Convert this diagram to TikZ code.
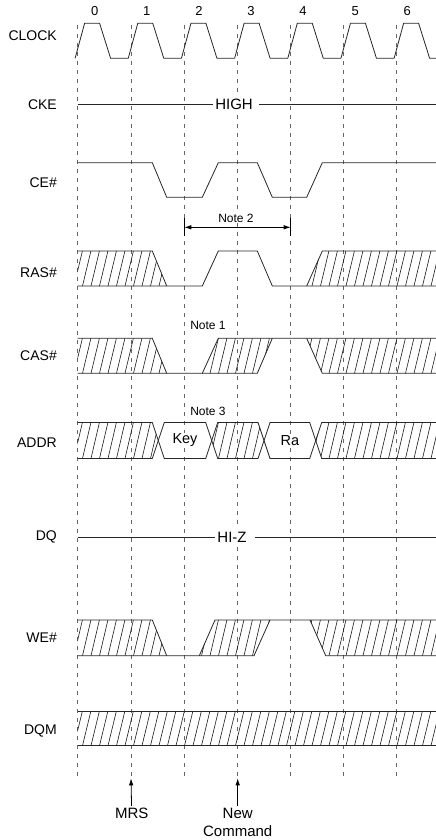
\documentclass[tikz,border=0pt]{standalone}
\usepackage{fontspec}
\setmainfont{Liberation Sans}
\usetikzlibrary{arrows.meta}

\tikzset{
  sigline/.style={line width=0.8pt, black!85},
  hatchline/.style={line width=0.6pt, black!90},
  gridline/.style={line width=0.6pt, black!60, dash pattern=on 4pt off 5pt},
  lbl/.style={anchor=east, inner sep=0pt, font=\fontsize{14}{16}\selectfont},
  note/.style={fill=white, inner sep=1pt, font=\fontsize{12}{14}\selectfont},
  val/.style={fill=white, inner sep=1pt, font=\fontsize{14.5}{16}\selectfont},
  level/.style={fill=white, inner sep=2.5pt, font=\fontsize{15}{17}\selectfont},
  cmd/.style={align=center, inner sep=2pt, font=\fontsize{15}{18}\selectfont},
  arr/.style={line width=0.8pt, -{Latex[length=7pt,width=4.5pt]}},
  arrboth/.style={line width=0.8pt, {Latex[length=7pt,width=4.5pt]}-{Latex[length=7pt,width=4.5pt]}},
}

% hatched bus region: #1 outline, #2 top y, #3 bottom y
\newcommand{\hatchregion}[3]{%
  \begin{scope}
    \clip #1;
    \foreach \hx in {40,48.5,...,440}
      \draw[hatchline] (\hx,#3) -- (\hx+8.4,#2);
  \end{scope}}

\begin{document}
\begin{tikzpicture}[x=1pt,y=-1pt]
\useasboundingbox (0,0) rectangle (436,840);

\begin{scope}
\clip (0,0) rectangle (436,840);

%clock edges
\foreach \k in {0,...,6}
  \draw[gridline] (77.7+53.17*\k,25) -- (77.7+53.17*\k,778);

%signal names
\node[lbl] (clock) at (57,36) {CLOCK};
\node[lbl] (cke) at (57,104.3) {CKE};
\node[lbl] (ce) at (57,182.5) {CE\#};
\node[lbl] (ras) at (57,272.5) {RAS\#};
\node[lbl] (cas) at (57,356) {CAS\#};
\node[lbl] (addr) at (57,442.5) {ADDR};
\node[lbl] (dq) at (57,537) {DQ};
\node[lbl] (we) at (57,637.5) {WE\#};
\node[lbl] (dqm) at (57,731) {DQM};

%clock numbers
\foreach \k in {0,...,6}
  \node[font=\fontsize{13}{15}\selectfont, inner sep=0pt] (num\k) at (94.7+52.1*\k,11) {\k};

%clock
\foreach \k in {0,...,6}
  \draw[sigline] (75.1+53.17*\k,58.3) -- ++(9.5,-35) -- ++(15,0) -- ++(11,35) -- ++(17.67,0);

%cke
\node[level] (high) at (234,104.3) {HIGH};
\coordinate (cke0) at (77.7,104.3);
\coordinate (cke1) at (436,104.3);
\draw[sigline] (cke0) -- (high.west);
\draw[sigline] ([xshift=4pt]high.east) -- (cke1);

%ce
\draw[sigline] (77.7,162.7) -- (152.3,162.7) -- (166.7,197.3) -- (202.3,197.3) -- (218.3,162.7)
  -- (257.3,162.7) -- (272.3,197.3) -- (306.7,197.3) -- (322.3,162.7) -- (436,162.7);

%note 2
\node[note] (note2) at (236,218) {Note 2};
\coordinate (n2a) at (184.3,227.3);
\coordinate (n2b) at (290.7,227.3);
\draw[line width=0.6pt] (184.3,218.3) -- (184.3,236);
\draw[line width=0.6pt] (290.7,218.3) -- (290.7,236);
\draw[arrboth] (n2a) -- (n2b);

%ras
\hatchregion{(77.7,251) -- (152.3,251) -- (166.7,286) -- (77.7,286) -- cycle}{251}{286}
\hatchregion{(306.7,286) -- (322.3,251) -- (436,251) -- (436,286) -- cycle}{251}{286}
\draw[sigline] (77.7,251) -- (152.3,251) -- (166.7,286);
\draw[sigline] (77.7,286) -- (202.3,286) -- (218.3,251) -- (257.3,251) -- (272.3,286) -- (436,286);
\draw[sigline] (306.7,286) -- (322.3,251) -- (436,251);

%cas
\node[note] (note1) at (208,325) {Note 1};
\hatchregion{(77.7,338.3) -- (152.3,338.3) -- (166.7,373.3) -- (77.7,373.3) -- cycle}{338.3}{373.3}
\hatchregion{(202.3,373.3) -- (218.3,338.3) -- (272.3,338.3) -- (257.3,373.3) -- cycle}{338.3}{373.3}
\hatchregion{(306.7,338.3) -- (436,338.3) -- (436,373.3) -- (322.3,373.3) -- cycle}{338.3}{373.3}
\draw[sigline] (77.7,338.3) -- (152.3,338.3) -- (166.7,373.3);
\draw[sigline] (77.7,373.3) -- (257.3,373.3) -- (272.3,338.3);
\draw[sigline] (202.3,373.3) -- (218.3,338.3) -- (436,338.3);
\draw[sigline] (306.7,338.3) -- (322.3,373.3) -- (436,373.3);

%addr
\node[note] (note3) at (208,411.7) {Note 3};
\hatchregion{(77.7,422.5) -- (152.3,422.5) -- (158.3,440.5) -- (152.3,458.5) -- (77.7,458.5) -- cycle}{422.5}{458.5}
\hatchregion{(211.7,440.5) -- (217.7,422.5) -- (258,422.5) -- (264,440.5) -- (258,458.5) -- (217.7,458.5) -- cycle}{422.5}{458.5}
\hatchregion{(315.7,440.5) -- (321.7,422.5) -- (436,422.5) -- (436,458.5) -- (321.7,458.5) -- cycle}{422.5}{458.5}
\draw[sigline] (77.7,422.5) -- (152.3,422.5) -- (164.3,458.5) -- (205.7,458.5) -- (217.7,422.5)
  -- (258,422.5) -- (270,458.5) -- (309.7,458.5) -- (321.7,422.5) -- (436,422.5);
\draw[sigline] (77.7,458.5) -- (152.3,458.5) -- (164.3,422.5) -- (205.7,422.5) -- (217.7,458.5)
  -- (258,458.5) -- (270,422.5) -- (309.7,422.5) -- (321.7,458.5) -- (436,458.5);
\node[val] (key) at (185,440.5) {Key};
\node[val] (ra) at (290,440.5) {Ra};

%dq
\node[level] (hiz) at (232,537) {HI-Z};
\coordinate (dq0) at (77.7,537);
\coordinate (dq1) at (436,537);
\draw[sigline] (dq0) -- (hiz.west);
\draw[sigline] ([xshift=6pt]hiz.east) -- (dq1);

%we
\hatchregion{(77.7,620) -- (152.3,620) -- (166.7,655.7) -- (77.7,655.7) -- cycle}{620}{655.7}
\hatchregion{(199.3,655.7) -- (215,620) -- (270,620) -- (254,655.7) -- cycle}{620}{655.7}
\hatchregion{(310,620) -- (436,620) -- (436,655.7) -- (325.7,655.7) -- cycle}{620}{655.7}
\draw[sigline] (77.7,620) -- (152.3,620) -- (166.7,655.7);
\draw[sigline] (77.7,655.7) -- (254,655.7) -- (270,620);
\draw[sigline] (199.3,655.7) -- (215,620) -- (436,620);
\draw[sigline] (310,620) -- (325.7,655.7) -- (436,655.7);

%dqm
\hatchregion{(77.7,711) rectangle (436,745.7)}{711}{745.7}
\draw[sigline] (77.7,711) -- (436,711);
\draw[sigline] (77.7,745.7) -- (436,745.7);

%commands
\node[cmd] (mrs) at (131.7,813.3) {MRS};
\node[cmd] (newcmd) at (237.7,822.5) {New\\Command};
\coordinate (mrst) at (131,778.3);
\coordinate (newt) at (237.7,778.3);
\draw[arr] (mrs) -- (mrst);
\draw[arr] (newcmd) -- (newt);

\end{scope}
\end{tikzpicture}
\end{document}
